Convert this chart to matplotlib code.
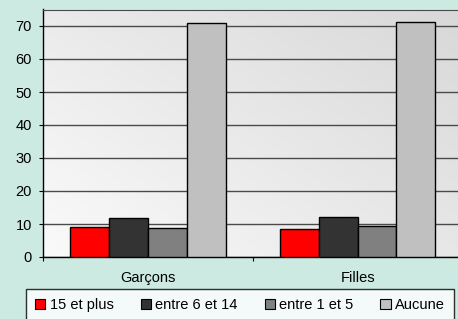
import numpy as np
import matplotlib
matplotlib.use("Agg")
import matplotlib.pyplot as plt
from matplotlib.patches import Patch

categories = ["Garçons", "Filles"]
series = ["15 et plus", "entre 6 et 14", "entre 1 et 5", "Aucune"]
values = {
    "15 et plus": [9.2, 8.4],
    "entre 6 et 14": [11.9, 12.2],
    "entre 1 et 5": [8.8, 9.3],
    "Aucune": [70.8, 71.2],
}
colors = ["#ff0000", "#333333", "#808080", "#c0c0c0"]

plt.rcParams["font.family"] = ["Liberation Sans", "DejaVu Sans"]

W, H = 458, 319
fig = plt.figure(figsize=(W / 100, H / 100), dpi=100)
fig.patch.set_facecolor("#cce9e2")
ax = fig.add_axes([43 / W, 1 - 257 / H, (W - 43) / W + 0.01, (257 - 9.5) / H])

# gradient background (light bottom-left to grey top-right)
gx, gy = np.meshgrid(np.linspace(0, 1, 200), np.linspace(0, 1, 200))
grad = (gx * 0.55 + gy * 0.45)
ax.imshow(grad, extent=[-0.5, 1.5, 0, 75], origin="lower", aspect="auto",
          cmap=matplotlib.colors.LinearSegmentedColormap.from_list("bg", ["#fafafa", "#d8d8d8"]),
          zorder=0)

x = np.arange(len(categories))
bw = 0.185
for i, (name, c) in enumerate(zip(series, colors)):
    ax.bar(x + (i - 1.5) * bw, values[name], bw, color=c, edgecolor="black",
           linewidth=1, zorder=3)

ax.set_xlim(-0.5, 1.5)
ax.set_ylim(0, 75)
ax.set_yticks(range(0, 71, 10))
ax.yaxis.grid(True, color="#4a4a4a", linewidth=1, zorder=1)
ax.set_axisbelow(True)
ax.tick_params(axis="y", length=3, pad=5, labelsize=10.5, color="black")

ax.set_xticks([-0.5, 0.5, 1.5])
ax.set_xticklabels([])
ax.set_xticks(x, minor=True)
ax.set_xticklabels(categories, minor=True)
ax.tick_params(axis="x", which="major", length=3, direction="out")
ax.tick_params(axis="x", which="minor", length=0, pad=10, labelsize=10.5)

ax.spines["right"].set_visible(False)
ax.spines["top"].set_color("#4a4a4a")
ax.spines["left"].set_linewidth(1)
ax.spines["bottom"].set_linewidth(1)

handles = [Patch(facecolor=c, edgecolor="black", linewidth=0.8) for c in colors]
leg = fig.legend(handles, series, loc="upper center", ncol=4,
                 bbox_to_anchor=(240 / W, 1 - 289 / H),
                 fontsize=10.5, frameon=True, fancybox=False,
                 handlelength=0.7, handleheight=0.7, handletextpad=0.3,
                 borderaxespad=0, borderpad=0.65, columnspacing=1.85)
leg.get_frame().set_edgecolor("black")
leg.get_frame().set_linewidth(1)
leg.get_frame().set_facecolor("white")

fig.savefig("out.png", dpi=100, facecolor=fig.get_facecolor())
